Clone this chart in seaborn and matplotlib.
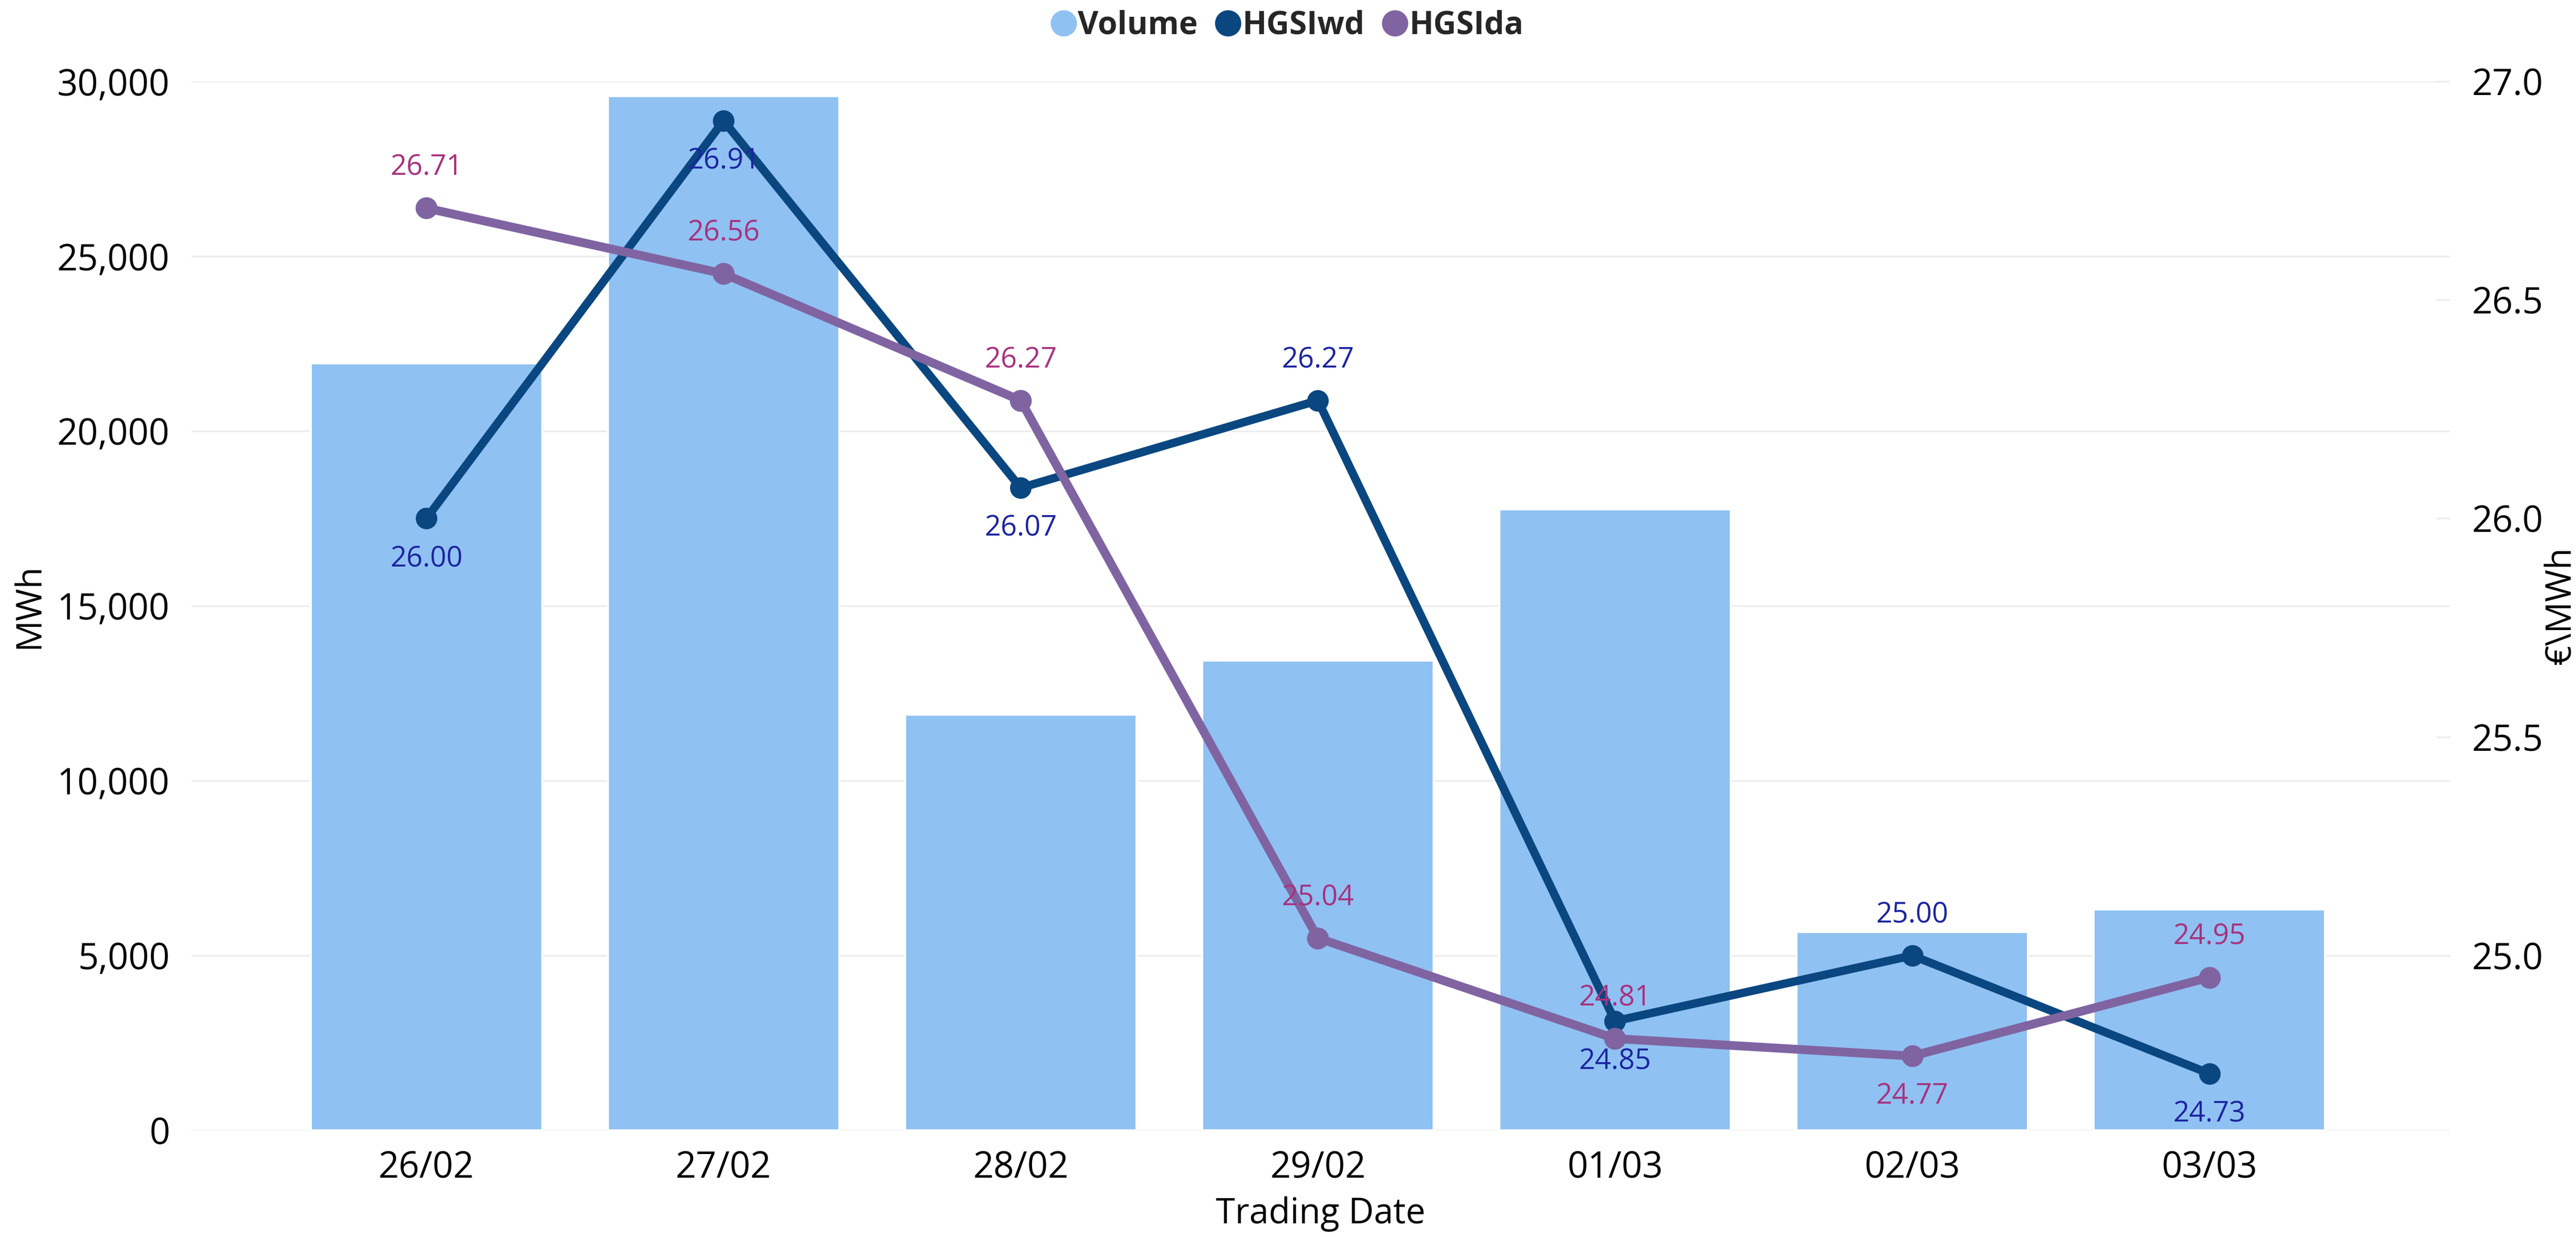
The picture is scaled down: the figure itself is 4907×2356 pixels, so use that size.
import matplotlib
matplotlib.use("Agg")
import matplotlib.pyplot as plt
from matplotlib.lines import Line2D
from matplotlib.ticker import FuncFormatter, MultipleLocator
import seaborn as sns
import pandas as pd

# Daily trading data
dates = ["26/02", "27/02", "28/02", "29/02", "01/03", "02/03", "03/03"]
volume = [21940, 29580, 11890, 13440, 17760, 5680, 6320]
hgsi_wd = [26.00, 26.91, 26.07, 26.27, 24.85, 25.00, 24.73]
hgsi_da = [26.71, 26.56, 26.27, 25.04, 24.81, 24.77, 24.95]

# Which side of the point each price label sits on (+1 above, -1 below)
wd_label_side = [-1, -1, -1, 1, -1, 1, -1]
da_label_side = [1, 1, 1, 1, 1, -1, 1]

BAR_COLOR = "#8FC1F2"
WD_COLOR = "#0A4780"
DA_COLOR = "#8064A2"
WD_TEXT = "#1C24A0"
DA_TEXT = "#A8327E"
GRID = "#EDEDED"

sns.set_theme(style="white")
plt.rcParams["font.family"] = ["Open Sans", "DejaVu Sans"]

df = pd.DataFrame({"date": dates, "volume": volume, "wd": hgsi_wd, "da": hgsi_da})

fig = plt.figure(figsize=(4907 / 300, 2356 / 300), dpi=300)
ax = fig.add_axes([0.0744, 0.0862, 0.8767, 0.848])

sns.barplot(data=df, x="date", y="volume", color=BAR_COLOR, saturation=1,
            width=0.78, ax=ax, zorder=2)
ax.set_ylim(0, 30000)
ax.yaxis.set_major_locator(MultipleLocator(5000))
ax.yaxis.set_major_formatter(FuncFormatter(lambda v, p: f"{int(v):,}"))
ax.grid(axis="y", color=GRID, linewidth=0.8, zorder=0)
ax.set_axisbelow(True)
for s in ax.spines.values():
    s.set_visible(False)
ax.tick_params(axis="both", length=0, labelsize=16.5, colors="black")
ax.tick_params(axis="y", pad=10)
ax.tick_params(axis="x", pad=9)
ax.set_xlabel("Trading Date", fontsize=16, color="black")
ax.set_ylabel("MWh", fontsize=16, color="black")
ax.xaxis.set_label_coords(0.5, -0.063)
ax.yaxis.set_label_coords(-0.064, 0.5)

ax2 = ax.twinx()
sns.pointplot(data=df, x="date", y="wd", color=WD_COLOR, markers="o",
              markersize=7, linewidth=3.8, ax=ax2, errorbar=None)
sns.pointplot(data=df, x="date", y="da", color=DA_COLOR, markers="o",
              markersize=7, linewidth=4.0, ax=ax2, errorbar=None)
ax2.set_ylim(24.6, 27.0)
ax2.yaxis.set_major_locator(MultipleLocator(0.5))
ax2.yaxis.set_major_formatter(FuncFormatter(lambda v, p: f"{v:.1f}"))
for s in ax2.spines.values():
    s.set_visible(False)
ax2.tick_params(axis="y", direction="in", length=6.2, width=0.8,
                color=GRID, labelsize=16.5, pad=10, labelcolor="black")
ax2.set_ylabel("€\\MWh", fontsize=16, color="black")
ax2.yaxis.set_label_coords(1.0415, 0.5)
ax2.set_xlabel("")
ax2.grid(False)

for i, (v, side) in enumerate(zip(hgsi_wd, wd_label_side)):
    ax2.annotate(f"{v:.2f}", (i, v), xytext=(0, 18.5 * side), textcoords="offset points",
                 ha="center", va="center", fontsize=13, color=WD_TEXT, zorder=5)
for i, (v, side) in enumerate(zip(hgsi_da, da_label_side)):
    ax2.annotate(f"{v:.2f}", (i, v), xytext=(0, 18.5 * side), textcoords="offset points",
                 ha="center", va="center", fontsize=13, color=DA_TEXT, zorder=5)

ax.set_xlim(-0.79, 6.81)
ax2.set_xlim(-0.79, 6.81)

handles = [
    Line2D([], [], marker="o", linestyle="", markersize=11, color=BAR_COLOR),
    Line2D([], [], marker="o", linestyle="", markersize=11, color=WD_COLOR),
    Line2D([], [], marker="o", linestyle="", markersize=11, color=DA_COLOR),
]
fig.legend(handles, ["Volume", "HGSIwd", "HGSIda"], loc="center",
           bbox_to_anchor=(0.5, 0.979), ncol=3, frameon=False,
           handlelength=0.7, handletextpad=0.1, columnspacing=0.6,
           prop={"size": 14.5, "weight": "bold"})

fig.savefig("out.png", dpi=300, facecolor="white")
